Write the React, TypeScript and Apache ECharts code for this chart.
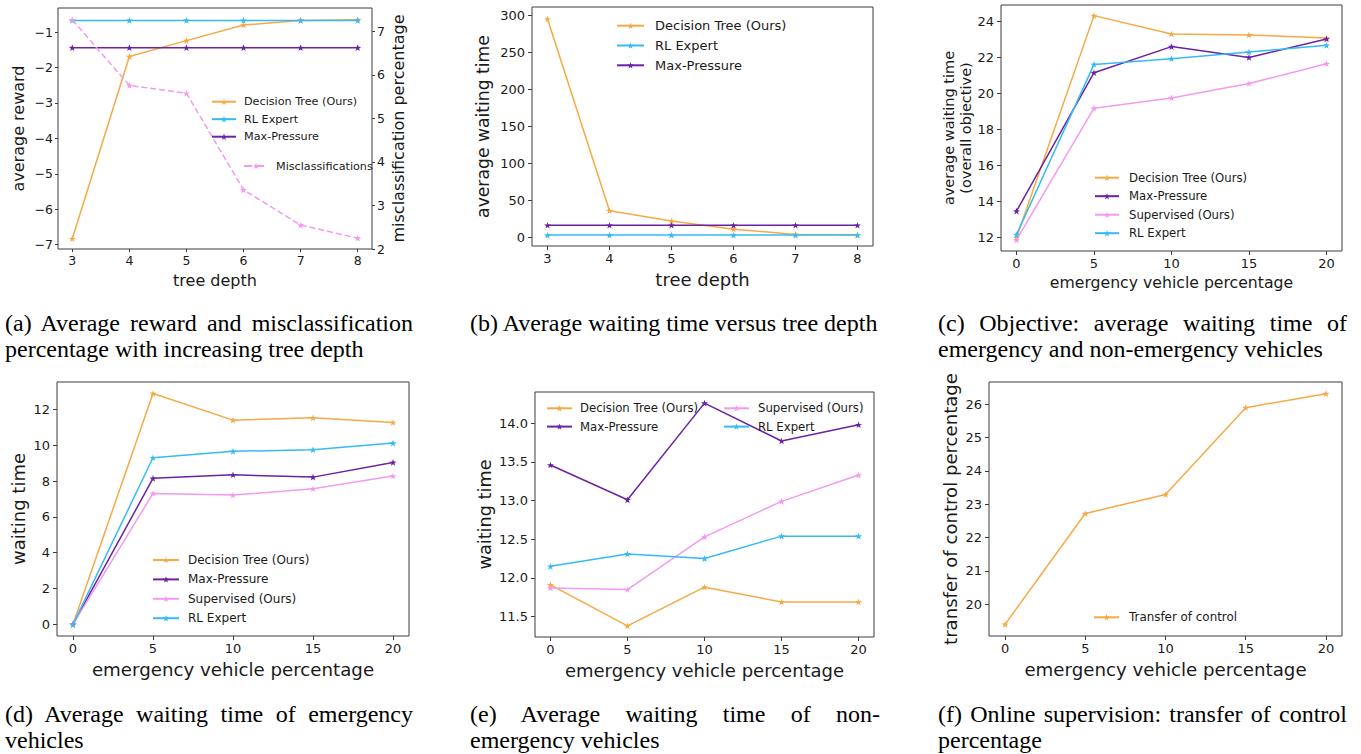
import React, { useEffect, useRef } from 'react';
import * as echarts from 'echarts';

// ---------------- data ----------------
const treeDepth = [3, 4, 5, 6, 7, 8];
const emergencyPct = [0, 5, 10, 15, 20];

// (a) average reward (left) and misclassification percentage (right)
const aDecisionTree = [-6.83, -1.69, -1.24, -0.8, -0.67, -0.65];
const aRLExpert = [-0.67, -0.67, -0.67, -0.67, -0.67, -0.67];
const aMaxPressure = [-1.44, -1.44, -1.44, -1.44, -1.44, -1.44];
const aMisclassifications = [7.27, 5.76, 5.58, 3.36, 2.55, 2.25];

// (b) average waiting time vs tree depth
const bDecisionTree = [295, 36, 22, 11, 4, 3.5];
const bRLExpert = [3, 3, 3, 3, 3, 3];
const bMaxPressure = [16.3, 16.3, 16.3, 16.3, 16.3, 16.3];

// (c) overall objective
const cDecisionTree = [12.0, 24.33, 23.31, 23.26, 23.09];
const cMaxPressure = [13.47, 21.16, 22.61, 22.01, 23.03];
const cSupervised = [11.88, 19.19, 19.76, 20.56, 21.66];
const cRLExpert = [12.17, 21.62, 21.94, 22.31, 22.68];

// (d) emergency vehicles waiting time
const dDecisionTree = [0, 12.89, 11.4, 11.53, 11.27];
const dMaxPressure = [0, 8.15, 8.35, 8.22, 9.04];
const dSupervised = [0, 7.31, 7.22, 7.57, 8.28];
const dRLExpert = [0, 9.3, 9.66, 9.75, 10.12];

// (e) non-emergency vehicles waiting time
const eDecisionTree = [11.91, 11.38, 11.88, 11.69, 11.69];
const eMaxPressure = [13.46, 13.01, 14.26, 13.77, 13.98];
const eSupervised = [11.87, 11.85, 12.53, 12.99, 13.33];
const eRLExpert = [12.15, 12.31, 12.25, 12.54, 12.54];

// (f) transfer of control
const fTransfer = [19.4, 22.72, 23.29, 25.89, 26.31];

// tick labels
const depthTicks = [3, 4, 5, 6, 7, 8];
const pctTicks = [0, 5, 10, 15, 20];
const aRewardTicks = [-7, -6, -5, -4, -3, -2, -1];
const aMisTicks = [2, 3, 4, 5, 6, 7];
const bTicks = [0, 50, 100, 150, 200, 250, 300];
const cTicks = [12, 14, 16, 18, 20, 22, 24];
const dTicks = [0, 2, 4, 6, 8, 10, 12];
const eTicks = [11.5, 12, 12.5, 13, 13.5, 14];
const fTicks = [20, 21, 22, 23, 24, 25, 26];

const captions = [
  '(a) Average reward and misclassification percentage with increasing tree depth',
  '(b) Average waiting time versus tree depth',
  '(c) Objective: average waiting time of emergency and non-emergency vehicles',
  '(d) Average waiting time of emergency vehicles',
  '(e) Average waiting time of non-emergency vehicles',
  '(f) Online supervision: transfer of control percentage',
];

// ---------------- styles ----------------
const FONT = '"DejaVu Sans", sans-serif';
const TXT = '#1a1a1a';
const AX = '#3c3c3c';
const C_DT = '#f6a944';
const C_RL = '#35baf6';
const C_MP = '#6b22a4';
const C_SUP = '#f39af0';
const STAR =
  'path://M0,-10L2.35,-3.24L9.51,-3.09L3.8,1.24L5.88,8.09L0,4L-5.88,8.09L-3.8,1.24L-9.51,-3.09L-2.35,-3.24Z';

const zip = (xs: number[], ys: number[]) => xs.map((x, i) => [x, ys[i]]);
const minusFmt = (v: number) => String(v).replace('-', '\u2212');

function axis(gridIndex: number, o: any) {
  return {
    type: 'value',
    gridIndex,
    min: o.min,
    max: o.max,
    position: o.position,
    name: o.name,
    nameLocation: 'middle',
    nameGap: o.nameGap,
    nameMoveOverlap: false,
    nameTextStyle: { fontSize: o.nameSize, color: TXT, fontFamily: FONT, lineHeight: o.nameLH },
    axisLine: { show: false, onZero: false },
    splitLine: { show: false },
    axisTick: { show: true, length: o.tickLen ?? 4, lineStyle: { color: AX, width: 1 }, customValues: o.ticks },
    axisLabel: {
      customValues: o.ticks,
      fontSize: o.labelSize ?? 13,
      color: TXT,
      fontFamily: FONT,
      margin: o.margin ?? 7,
      formatter: o.fmt ?? minusFmt,
    },
  };
}

function line(name: string, xi: number, yi: number, xs: number[], ys: number[], color: string, dashed = false) {
  return {
    type: 'line',
    name,
    xAxisIndex: xi,
    yAxisIndex: yi,
    data: zip(xs, ys),
    symbol: STAR,
    symbolSize: 7,
    symbolKeepAspect: true,
    showSymbol: true,
    lineStyle: { color, width: 1.5, type: dashed ? 'dashed' : 'solid' },
    itemStyle: { color },
    emphasis: { disabled: true },
    silent: true,
  };
}

function legend(names: string[], left: number, top: number, gap: number, size: number, itemWidth: number, pad: number, lh = 14) {
  return {
    orient: 'vertical',
    left,
    top,
    padding: 0,
    itemGap: gap,
    itemWidth,
    itemHeight: 8,
    selectedMode: false,
    data: names,
    formatter: (n: string) => n.split('|')[0],
    textStyle: { fontSize: size, color: TXT, fontFamily: FONT, lineHeight: lh, padding: [0, 0, 0, pad] },
  };
}

function buildOption() {
  const gridBase = {
    show: true,
    borderColor: AX,
    borderWidth: 1,
    backgroundColor: 'transparent',
    containLabel: false,
    outerBoundsMode: 'none',
  };
  const grid = [
    { ...gridBase, left: 58, top: 8, width: 314, height: 241 },
    { ...gridBase, left: 532, top: 7, width: 341, height: 239 },
    { ...gridBase, left: 1001, top: 5, width: 341, height: 246 },
    { ...gridBase, left: 57, top: 382, width: 352, height: 254 },
    { ...gridBase, left: 535, top: 392, width: 339, height: 245 },
    { ...gridBase, left: 989, top: 382, width: 353, height: 254 },
  ];
  const evp = 'emergency vehicle percentage';
  const xAxis = [
    axis(0, { min: 2.75, max: 8.25, ticks: depthTicks, name: 'tree depth', nameGap: 23, nameSize: 16, margin: 5, labelSize: 12.5, tickLen: 3 }),
    axis(1, { min: 2.75, max: 8.25, ticks: depthTicks, name: 'tree depth', nameGap: 24, nameSize: 18, margin: 6 }),
    axis(2, { min: -1, max: 21, ticks: pctTicks, name: evp, nameGap: 23, nameSize: 15.7, margin: 6 }),
    axis(3, { min: -1, max: 21, ticks: pctTicks, name: evp, nameGap: 24, nameSize: 18.2, margin: 6 }),
    axis(4, { min: -1, max: 21, ticks: pctTicks, name: evp, nameGap: 24, nameSize: 18, margin: 6 }),
    axis(5, { min: -1, max: 21, ticks: pctTicks, name: evp, nameGap: 24, nameSize: 18.2, margin: 6 }),
  ];
  const yAxis = [
    axis(0, { min: -7.12, max: -0.32, ticks: aRewardTicks, name: 'average reward', nameGap: 32, nameSize: 16, margin: 5, labelSize: 12.5, tickLen: 3 }),
    axis(0, { min: 2.0, max: 7.54, ticks: aMisTicks, position: 'right', name: 'misclassification percentage', nameGap: 18, nameSize: 16, margin: 5, labelSize: 12.5, tickLen: 3 }),
    axis(1, { min: -11.7, max: 311.3, ticks: bTicks, name: 'average waiting time', nameGap: 41, nameSize: 17.2 }),
    axis(2, { min: 11.26, max: 24.92, ticks: cTicks, name: 'average waiting time\n(overall objective)', nameGap: 27, nameSize: 14.5, nameLH: 17 }),
    axis(3, { min: -0.65, max: 13.53, ticks: dTicks, name: 'waiting time', nameGap: 30, nameSize: 18 }),
    axis(4, { min: 11.236, max: 14.404, ticks: eTicks, name: 'waiting time', nameGap: 41, nameSize: 17.7, fmt: (v: number) => v.toFixed(1) }),
    axis(5, { min: 19.05, max: 26.66, ticks: fTicks, name: 'transfer of control percentage', nameGap: 30, nameSize: 18.1 }),
  ];
  const series = [
    line('Decision Tree (Ours)|a', 0, 0, treeDepth, aDecisionTree, C_DT),
    line('RL Expert|a', 0, 0, treeDepth, aRLExpert, C_RL),
    line('Max-Pressure|a', 0, 0, treeDepth, aMaxPressure, C_MP),
    line('Misclassifications|a', 0, 1, treeDepth, aMisclassifications, C_SUP, true),

    line('Decision Tree (Ours)|b', 1, 2, treeDepth, bDecisionTree, C_DT),
    line('RL Expert|b', 1, 2, treeDepth, bRLExpert, C_RL),
    line('Max-Pressure|b', 1, 2, treeDepth, bMaxPressure, C_MP),

    line('Decision Tree (Ours)|c', 2, 3, emergencyPct, cDecisionTree, C_DT),
    line('Max-Pressure|c', 2, 3, emergencyPct, cMaxPressure, C_MP),
    line('Supervised (Ours)|c', 2, 3, emergencyPct, cSupervised, C_SUP),
    line('RL Expert|c', 2, 3, emergencyPct, cRLExpert, C_RL),

    line('Decision Tree (Ours)|d', 3, 4, emergencyPct, dDecisionTree, C_DT),
    line('Max-Pressure|d', 3, 4, emergencyPct, dMaxPressure, C_MP),
    line('Supervised (Ours)|d', 3, 4, emergencyPct, dSupervised, C_SUP),
    line('RL Expert|d', 3, 4, emergencyPct, dRLExpert, C_RL),

    line('Decision Tree (Ours)|e', 4, 5, emergencyPct, eDecisionTree, C_DT),
    line('Max-Pressure|e', 4, 5, emergencyPct, eMaxPressure, C_MP),
    line('Supervised (Ours)|e', 4, 5, emergencyPct, eSupervised, C_SUP),
    line('RL Expert|e', 4, 5, emergencyPct, eRLExpert, C_RL),

    line('Transfer of control|f', 5, 6, emergencyPct, fTransfer, C_DT),
  ];
  const legends = [
    legend(['Decision Tree (Ours)|a', 'RL Expert|a', 'Max-Pressure|a'], 211, 94.7, 3.5, 11.2, 24, 3),
    legend(['Misclassifications|a'], 243, 159, 4, 11.2, 24, 3),
    legend(['Decision Tree (Ours)|b', 'RL Expert|b', 'Max-Pressure|b'], 616, 18.2, 4.8, 13, 27, 6, 15),
    legend(['Decision Tree (Ours)|c', 'Max-Pressure|c', 'Supervised (Ours)|c', 'RL Expert|c'], 1094, 170.7, 4.5, 11.7, 24, 5),
    legend(['Decision Tree (Ours)|d', 'Max-Pressure|d', 'Supervised (Ours)|d', 'RL Expert|d'], 152, 553, 5.4, 12, 26, 4),
    legend(['Decision Tree (Ours)|e', 'Max-Pressure|e'], 546, 401.3, 4.3, 11.7, 25, 3),
    legend(['Supervised (Ours)|e', 'RL Expert|e'], 723, 401.3, 4.3, 11.7, 25, 4),
    legend(['Transfer of control|f'], 1093, 610.3, 4, 11.9, 25, 5),
  ];
  return {
    animation: false,
    backgroundColor: '#ffffff',
    textStyle: { fontFamily: FONT },
    grid,
    xAxis,
    yAxis,
    series,
    legend: legends,
  };
}

const capPos = [
  { left: 5, top: 310, width: 408 },
  { left: 470, top: 310, width: 440 },
  { left: 938, top: 310, width: 409 },
  { left: 5, top: 701, width: 408 },
  { left: 470, top: 701, width: 410 },
  { left: 938, top: 701, width: 409 },
];

export default function App() {
  const ref = useRef<HTMLDivElement>(null);
  useEffect(() => {
    if (!ref.current) return;
    const chart = echarts.init(ref.current, null, { renderer: 'svg' });
    chart.setOption(buildOption() as any);
    return () => chart.dispose();
  }, []);
  return (
    <div style={{ position: 'absolute', left: 0, top: 0, width: 1361, height: 754, background: '#fff', overflow: 'hidden' }}>
      <div ref={ref} style={{ position: 'absolute', left: 0, top: 0, width: 1361, height: 754 }} />
      {captions.map((c, i) => (
        <div
          key={i}
          style={{
            position: 'absolute',
            left: capPos[i].left,
            top: capPos[i].top,
            width: capPos[i].width,
            fontFamily: '"Liberation Serif", "Times New Roman", serif',
            fontSize: 24,
            lineHeight: '26px',
            textAlign: 'justify',
            color: '#000',
          }}
        >
          {c}
        </div>
      ))}
    </div>
  );
}
